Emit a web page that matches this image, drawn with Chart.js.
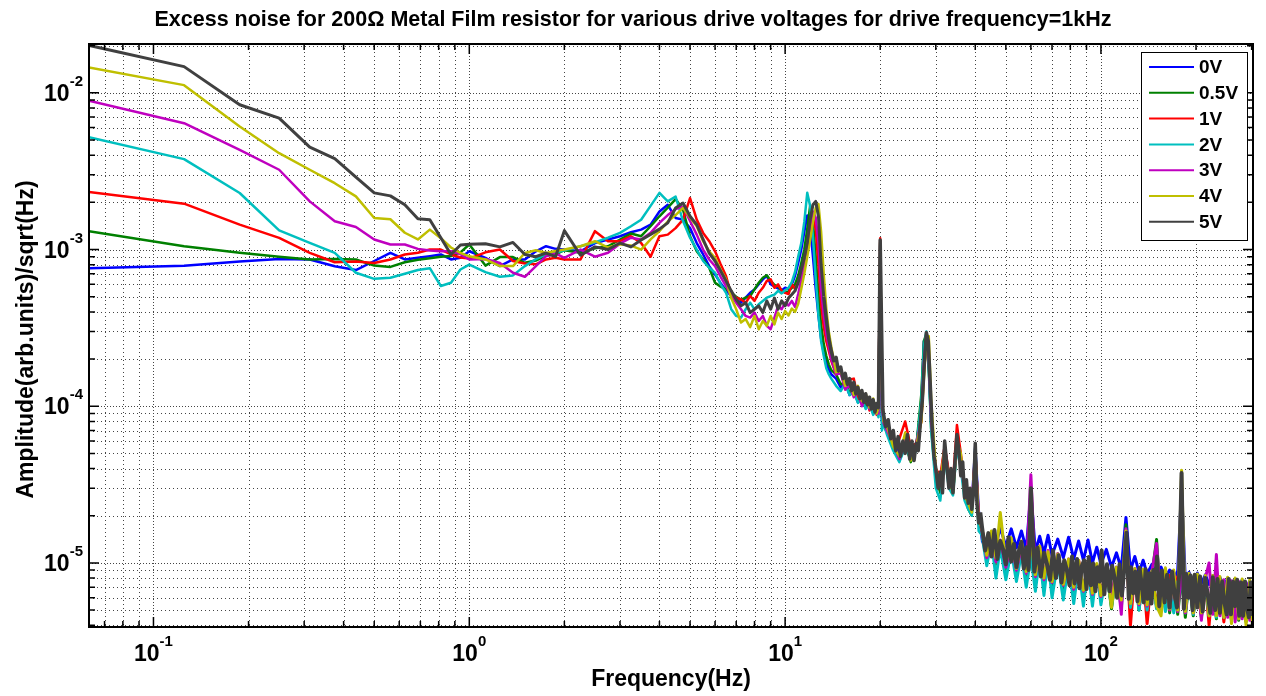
<!DOCTYPE html>
<html>
<head>
<meta charset="utf-8">
<title>Excess noise spectra</title>
<script src="https://cdn.jsdelivr.net/npm/chart.js@4.4.1/dist/chart.umd.min.js"></script>
<style>
  html, body { margin: 0; padding: 0; background: #fff; }
  canvas { display: block; }
</style>
</head>
<body>
<canvas id="noiseChart" width="1266" height="696"></canvas>
<script>
// FFT bin frequencies (Hz) up to 41 Hz, shared by the traces
const freqHz = [
  0.0625, 0.125, 0.1875, 0.25, 0.3125, 0.375, 0.4375, 0.5, 0.5625, 0.625, 0.6875, 0.75, 0.8125, 0.875, 0.9375, 1,
  1.125, 1.25, 1.375, 1.5, 1.625, 1.75, 1.875, 2, 2.25, 2.5, 2.75, 3, 3.25, 3.5, 3.75, 4,
  4.25, 4.5, 4.75, 5, 5.25, 5.5, 5.75, 6, 6.25, 6.5, 6.75, 7, 7.25, 7.5, 7.75, 8, 8.25, 8.5, 8.75, 9, 9.25, 9.5, 9.75, 10,
  10.25, 10.5, 10.75, 11, 11.25, 11.5, 11.75, 12, 12.25, 12.5, 12.75, 13, 13.25, 13.5, 13.75, 14,
  14.5, 15, 15.5, 16, 16.5, 17, 17.5, 18, 18.5, 19, 19.5, 19.75, 20, 20.25, 20.5,
  21, 22, 23, 24, 25, 26, 27, 27.5, 28, 28.5, 29, 30, 31, 32, 33, 34, 35, 36, 37, 38, 39, 40, 41
];
// bins of the noise floor above 41 Hz
const bandHz = [
  42, 43.5, 45, 46.5, 48, 50, 52, 54, 56, 58,
  60, 62, 64, 66, 68, 70, 73, 76, 79, 82,
  85, 88, 91, 94, 97, 100, 104, 108, 112, 116,
  120, 124, 128, 132, 136, 140, 145, 150, 155, 160,
  165, 170, 175, 180, 185, 190, 196, 202, 208, 214,
  220, 226, 232, 238, 245, 252, 259, 266, 273, 280,
  288, 296, 302
];
// finer bins used for the 5V trace above 13.25 Hz
const fineHz = [
  13.5, 13.75, 14, 14.25, 14.5, 14.75, 15, 15.25, 15.5, 15.75, 16, 16.25, 16.5, 16.75,
  17, 17.25, 17.5, 17.75, 18, 18.25, 18.5, 18.75, 19, 19.25, 19.5, 19.75, 20,
  20.4, 20.8, 21.2, 21.6, 22, 22.4, 22.8, 23.2, 23.6, 24, 24.4, 24.8, 25.2, 25.6,
  26, 26.4, 26.8, 27.2, 27.6, 28, 28.4, 28.8, 29.2, 29.6, 30,
  30.5, 31, 31.5, 32, 32.5, 33, 33.5, 34, 34.5, 35, 35.5, 36, 36.5, 37, 37.5, 38,
  38.5, 39, 39.5, 40, 40.5, 41, 41.5,
  42, 43, 44, 45, 46, 47, 48, 49, 50, 51, 52, 53, 54, 55, 56, 57, 58, 59, 60,
  61.5, 63, 64.5, 66, 67.5, 69, 70.5, 72, 73.5, 75, 76.5, 78, 79.5, 81, 82.5, 84, 85.5, 87, 88.5, 90,
  91.5, 93, 94.5, 96, 97.5, 99, 100.5,
  102.5, 104.5, 106.5, 108.5, 110.5, 112.5, 114.5, 116.5, 118.5, 120.5, 122.5, 124.5, 126.5,
  128.5, 130.5, 132.5, 134.5, 136.5, 138.5, 140.5, 142.5, 144.5, 146.5, 148.5, 150.5,
  153, 156, 159, 162, 165, 168, 171, 174, 177, 180, 183, 186, 189, 192, 195, 198,
  202, 206, 210, 214, 218, 222, 226, 230, 234, 238, 242, 246, 250, 254, 258, 262,
  266, 270, 274, 278, 282, 286, 290, 294, 298, 302
];

// amplitudes, in units of 1e-6 arb.units/sqrt(Hz)
const amp0V = [
  761, 788, 840, 870, 864, 783, 740, 845, 953, 864, 885, 907, 930, 864, 885, 975,
  885, 784, 864, 864, 975, 1050, 1010, 1000, 975, 1100, 1160, 1216, 1290, 1340, 1440, 1750,
  1930, 1590, 1552, 1370, 1100, 930, 784, 693, 610, 550, 505, 477, 458, 493, 530, 557, 600, 645, 680, 600, 580, 565, 550, 570,
  560, 600, 680, 820, 1000, 1300, 1650, 1400, 900, 560, 380, 270, 220, 190, 172, 160,
  150, 132, 140, 118, 124, 106, 114, 98, 106, 90, 98, 95, 1060, 80, 80,
  72, 58, 50, 62, 48, 56, 100, 260, 270, 180, 78, 40, 32, 56, 36, 32, 62, 48, 30, 26, 24, 56, 22
];
const band0V = [
  14.0, 12.0, 14.5, 13.0, 16.8, 12.8, 16.5, 12.5, 16.0, 12.2,
  28.0, 11.8, 14.8, 11.5, 15.0, 11.2, 14.2, 10.8, 14.6, 10.6,
  13.8, 10.4, 14.0, 10.0, 12.6, 9.8, 12.2, 9.4, 11.6, 9.2,
  19.5, 9.0, 11.0, 8.7, 10.4, 8.5, 9.8, 8.3, 9.4, 8.1,
  9.0, 7.9, 8.9, 30.0, 7.8, 8.7, 7.6, 8.6, 7.4, 8.4,
  7.3, 8.3, 7.2, 8.1, 7.0, 8.0, 6.9, 7.9, 6.8, 7.8,
  6.7, 7.7, 6.6
];
const amp05V = [
  1307, 1050, 953, 898, 864, 870, 864, 790, 775, 830, 860, 880, 900, 910, 960, 1076,
  790, 895, 895, 823, 850, 915, 930, 990, 953, 1020, 1050, 1158, 1265, 1216, 1408, 1630,
  1850, 2100, 1795, 1216, 975, 864, 765, 614, 580, 557, 530, 500, 477, 493, 505, 557, 614, 660, 685, 630, 595, 580, 550, 530,
  540, 570, 600, 680, 820, 1000, 1350, 1900, 1500, 900, 520, 330, 250, 210, 185, 170,
  160, 138, 142, 122, 128, 110, 116, 100, 106, 92, 98, 88, 1120, 85, 76,
  68, 56, 45, 58, 44, 54, 120, 260, 290, 170, 72, 35, 28, 50, 32, 28, 56, 45, 27, 22, 20, 55, 18
];
const band05V = [
  16.0, 10.6, 14.5, 9.8, 13.8, 9.2, 13.0, 8.8, 12.2, 8.3,
  12.0, 7.9, 11.5, 7.4, 11.0, 7.0, 10.8, 6.8, 10.2, 6.4,
  10.0, 6.1, 9.8, 5.9, 9.5, 5.7, 9.2, 5.1, 9.0, 5.3,
  17.5, 5.2, 8.8, 5.0, 8.6, 4.7, 8.4, 14.1, 4.9, 8.2,
  4.8, 8.0, 4.7, 8.2, 4.5, 7.8, 4.6, 7.7, 4.5, 7.6,
  4.5, 7.5, 4.4, 7.4, 4.4, 7.3, 4.3, 7.2, 4.3, 7.1,
  4.2, 7.0, 4.2
];
const amp1V = [
  2330, 1962, 1442, 1186, 953, 830, 840, 820, 864, 930, 953, 1000, 1000, 930, 890, 875,
  960, 1000, 845, 815, 805, 864, 885, 864, 864, 1310, 1130, 1130, 1216, 1100, 900, 1216,
  1245, 1370, 1552, 2130, 1552, 1277, 1130, 975, 805, 677, 516, 493, 480, 458, 505, 470, 530, 570, 630, 645, 570, 600, 545, 530,
  520, 600, 560, 620, 700, 850, 1050, 1350, 1600, 1350, 800, 450, 320, 260, 225, 195,
  160, 172, 128, 148, 150, 112, 104, 118, 94, 104, 88, 100, 1180, 95, 82,
  72, 60, 62, 80, 55, 58, 80, 160, 270, 230, 82, 40, 36, 56, 38, 33, 76, 50, 30, 26, 23, 52, 20
];
const band1V = [
  16.5, 11.0, 14.5, 10.0, 13.5, 9.6, 12.8, 9.0, 12.2, 8.6,
  12.0, 8.2, 11.8, 7.9, 11.2, 7.6, 11.0, 7.2, 10.4, 6.9,
  10.2, 6.6, 10.0, 6.4, 9.6, 6.2, 9.4, 6.0, 9.2, 5.8,
  13.5, 4.0, 9.0, 5.5, 8.8, 4.1, 8.6, 5.3, 8.4, 5.2,
  8.3, 5.0, 8.2, 9.0, 4.9, 8.0, 4.8, 7.9, 4.7, 7.8,
  4.0, 7.7, 4.6, 7.6, 4.2, 7.5, 4.5, 7.4, 4.4, 7.3,
  4.3, 7.2, 4.2
];
const amp2V = [
  5210, 3775, 2295, 1326, 1103, 953, 711, 650, 660, 700, 740, 760, 585, 614, 746, 802,
  718, 670, 684, 784, 870, 930, 953, 990, 1050, 1110, 1190, 1277, 1408, 1550, 1900, 2300,
  2030, 2180, 1520, 1190, 1000, 845, 765, 711, 600, 530, 416, 377, 368, 416, 458, 416, 447, 470, 493, 505, 516, 545, 525, 550,
  570, 620, 720, 900, 1100, 1500, 2300, 1900, 1200, 650, 380, 260, 210, 175, 160, 150,
  135, 125, 140, 118, 124, 105, 112, 96, 104, 88, 96, 85, 1080, 70, 78,
  66, 52, 44, 55, 46, 52, 110, 240, 300, 180, 70, 30, 25, 48, 30, 27, 55, 40, 25, 22, 20, 45, 16
];
const band2V = [
  15.0, 9.6, 14.0, 8.0, 12.5, 7.8, 12.0, 7.6, 11.5, 7.0,
  11.0, 6.6, 11.0, 6.2, 10.5, 6.0, 10.2, 5.8, 9.8, 5.5,
  9.6, 5.3, 9.4, 5.3, 9.2, 5.4, 8.8, 5.3, 8.6, 5.1,
  14.0, 5.2, 8.4, 5.0, 8.2, 5.0, 8.0, 5.1, 7.8, 4.9,
  7.7, 4.8, 7.6, 8.0, 4.8, 7.5, 4.7, 7.4, 4.6, 7.3,
  4.6, 7.2, 4.5, 7.1, 4.5, 7.0, 4.4, 6.9, 4.4, 6.9,
  4.3, 6.8, 4.3
];
const amp3V = [
  8900, 6400, 4330, 3230, 2030, 1515, 1394, 1158, 1076, 1076, 1010, 985, 975, 975, 935, 864,
  870, 820, 711, 670, 784, 907, 945, 885, 1000, 900, 953, 1090, 1190, 1160, 1277, 1480,
  1660, 1810, 1880, 1520, 1245, 1000, 864, 784, 670, 585, 505, 458, 416, 377, 368, 396, 350, 377, 326, 310, 368, 437, 416, 458,
  440, 470, 430, 520, 640, 780, 1000, 1350, 1750, 1600, 1100, 560, 380, 290, 240, 200,
  160, 162, 128, 136, 114, 125, 100, 112, 96, 102, 90, 90, 1100, 100, 78,
  70, 58, 46, 60, 48, 56, 85, 190, 285, 200, 80, 38, 33, 52, 35, 30, 58, 44, 28, 25, 22, 50, 20
];
const band3V = [
  16.0, 10.8, 14.8, 10.2, 14.0, 9.4, 13.2, 9.0, 12.5, 8.6,
  36.5, 8.2, 12.8, 7.8, 12.0, 7.5, 11.5, 7.2, 10.6, 6.8,
  10.4, 6.6, 10.2, 6.3, 9.8, 6.1, 9.6, 5.9, 9.4, 4.7,
  16.5, 5.6, 9.2, 5.4, 9.0, 5.3, 8.8, 13.3, 5.1, 8.6,
  5.0, 8.5, 4.9, 9.0, 4.8, 8.3, 4.8, 8.2, 4.3, 8.0,
  10.0, 4.7, 11.3, 4.6, 7.8, 4.5, 7.7, 4.2, 7.6, 4.4,
  7.5, 4.3, 7.4
];
const amp4V = [
  14500, 11200, 6100, 4120, 3230, 2650, 2185, 1590, 1560, 1280, 1160, 1340, 1180, 1030, 953, 905,
  864, 784, 784, 950, 990, 950, 980, 1000, 1050, 1130, 1030, 1080, 1060, 1000, 1160, 1310,
  1510, 1660, 1845, 1600, 1410, 1130, 975, 885, 746, 645, 490, 416, 342, 360, 320, 377, 310, 350, 326, 377, 333, 396, 360, 406,
  380, 420, 400, 450, 560, 700, 900, 1150, 1500, 1850, 1950, 1300, 700, 420, 300, 240,
  165, 168, 135, 145, 118, 135, 108, 120, 98, 112, 90, 98, 1100, 130, 80,
  75, 55, 48, 68, 45, 55, 80, 150, 270, 280, 110, 40, 32, 55, 34, 28, 60, 50, 27, 24, 21, 52, 19
];
const band4V = [
  16.5, 11.2, 16.0, 10.8, 21.0, 10.0, 14.5, 9.2, 13.8, 8.8,
  13.5, 8.4, 12.8, 8.0, 11.8, 7.6, 11.4, 7.3, 10.6, 7.0,
  10.4, 6.7, 10.2, 6.4, 9.9, 6.2, 9.6, 5.2, 9.4, 5.8,
  16.0, 5.5, 9.2, 5.5, 9.1, 5.4, 8.9, 5.3, 4.6, 9.3,
  5.1, 9.0, 5.0, 39.0, 4.9, 8.6, 4.8, 8.5, 4.8, 8.3,
  4.6, 8.3, 4.6, 8.2, 4.5, 8.1, 4.1, 8.0, 4.4, 7.9,
  4.0, 7.8, 4.0
];
// 5V up to 13.25 Hz on freqHz, then on fineHz
const amp5V = [
  20100, 14700, 8400, 6900, 4500, 3800, 2900, 2300, 2200, 1930, 1570, 1550, 1190, 930, 1070, 1080,
  1090, 1040, 1110, 930, 900, 950, 900, 1320, 920, 1040, 1000, 1100, 1040, 1150, 1250, 1350,
  1480, 1840, 1980, 1630, 1440, 1160, 950, 845, 730, 630, 545, 480, 437, 458, 396, 416, 437, 396, 470, 416, 490, 416, 470, 437,
  490, 516, 545, 614, 746, 885, 1100, 1550, 1930, 2030, 1630, 800, 500
];
const fine5V = [
  360, 270, 225, 195, 205, 168, 178, 150, 162, 138, 150, 126, 142, 120,
  132, 112, 126, 106, 120, 102, 114, 96, 110, 92, 104, 98, 1150,
  95, 74, 82, 62, 70, 52, 64, 48, 60, 50, 66, 46, 60, 45,
  58, 52, 78, 110, 190, 295, 260, 140, 75, 48, 40,
  30, 38, 28, 60, 42, 30, 40, 28, 44, 66, 52, 36, 44, 26, 34, 24,
  30, 22, 28, 58, 24, 18, 21,
  17.0, 12.0, 15.5, 11.0, 16.2, 10.6, 13.8, 12.2, 9.8, 14.6, 10.2, 13.2, 9.4, 12.0, 13.6, 9.2, 12.6, 9.0, 30.0,
  8.8, 12.5, 8.2, 11.6, 9.8, 7.8, 12.0, 8.0, 11.2, 7.5, 10.4, 9.0, 7.2, 11.0, 7.4, 10.6, 6.9, 9.6, 10.4, 6.8,
  10.9, 7.2, 9.9, 6.6, 9.4, 7.6, 12.0,
  6.3, 9.8, 6.6, 9.6, 8.0, 6.0, 9.8, 6.2, 9.2, 15.6, 5.9, 9.4, 6.4,
  8.8, 5.7, 9.3, 7.4, 5.6, 9.1, 5.9, 8.6, 5.5, 9.0, 6.8, 11.0,
  5.3, 8.9, 5.6, 8.4, 5.2, 8.8, 6.4, 5.2, 8.6, 37.5, 5.1, 8.5, 6.0, 8.3, 5.0, 8.4,
  5.2, 8.2, 4.9, 8.0, 6.2, 4.8, 8.1, 5.0, 7.9, 4.8, 7.6, 5.6, 4.7, 7.9, 4.7, 7.6,
  5.3, 7.8, 4.6, 7.5, 4.6, 7.6, 5.2, 4.5, 7.5, 4.6
];

const driveLabels = ['0V', '0.5V', '1V', '2V', '3V', '4V', '5V'];
const lowSeries = [amp0V, amp05V, amp1V, amp2V, amp3V, amp4V, amp5V];
const highSeries = [band0V, band05V, band1V, band2V, band3V, band4V, fine5V];
const highGrids = [bandHz, bandHz, bandHz, bandHz, bandHz, bandHz, fineHz];
const traceColors = ['#0000ff', '#008000', '#ff0000', '#00bfbf', '#bf00bf', '#bfbf00', '#404040'];
// stroke widths: below 13 Hz, 13-41 Hz, above 41 Hz (dense noise floor)
const traceWidths = [
  [2.5, 2.5, 3], [2.5, 2.5, 3], [2.5, 2.5, 3], [2.5, 2.5, 3],
  [2.5, 2.5, 3], [2.5, 2.5, 3], [3, 3.5, 4]
];

// labelled decades on each axis
const xTickValues = [0.1, 1, 10, 100];
const yTickValues = [1e-5, 1e-4, 1e-3, 1e-2];

const titleText = 'Excess noise for 200\u03a9 Metal Film resistor for various drive voltages for drive frequency=1kHz';
const xTitle = 'Frequency(Hz)';
const yTitle = 'Amplitude(arb.units)/sqrt(Hz)';

const FONT = '"Liberation Sans", Arial, Helvetica, sans-serif';

// 1..9 x 10^n steps strictly inside (lo, hi)
function logSteps(lo, hi) {
  const out = [];
  for (let e = Math.floor(Math.log10(lo)); e <= Math.ceil(Math.log10(hi)); e++) {
    for (let m = 1; m <= 9; m++) {
      const v = m * Math.pow(10, e);
      if (v > lo * 1.0001 && v < hi * 0.9999) out.push({ v, major: m === 1 });
    }
  }
  return out;
}

// "10" with a raised exponent; anchor = 'center' or 'right'
function drawPower(ctx, exp, x, y, anchor) {
  const base = '10', sup = String(exp);
  ctx.font = 'bold 23px ' + FONT;
  const wb = ctx.measureText(base).width;
  ctx.font = 'bold 15px ' + FONT;
  const ws = ctx.measureText(sup).width;
  const left = anchor === 'right' ? x - wb - ws : x - (wb + ws) / 2;
  ctx.textAlign = 'left';
  ctx.textBaseline = 'alphabetic';
  ctx.font = 'bold 23px ' + FONT;
  ctx.fillText(base, left, y);
  ctx.font = 'bold 15px ' + FONT;
  ctx.fillText(sup, left + wb, y - 15);
}

const axesFrame = {
  id: 'axesFrame',
  beforeDraw(chart) {
    const { ctx, width, height } = chart;
    ctx.save();
    ctx.fillStyle = '#fff';
    ctx.fillRect(0, 0, width, height);
    ctx.restore();
  },
  beforeDatasetsDraw(chart) {
    const { ctx, chartArea: a, scales: { x, y } } = chart;
    ctx.save();
    ctx.strokeStyle = '#444';
    ctx.lineWidth = 1;
    for (const t of logSteps(x.min, x.max)) {
      const px = Math.round(x.getPixelForValue(t.v)) + 0.5;
      ctx.setLineDash(t.major ? [1, 2] : [1, 3]);
      ctx.beginPath();
      ctx.moveTo(px, a.top);
      ctx.lineTo(px, a.bottom);
      ctx.stroke();
    }
    for (const t of logSteps(y.min, y.max)) {
      const py = Math.round(y.getPixelForValue(t.v)) + 0.5;
      ctx.setLineDash(t.major ? [1, 2] : [1, 3]);
      ctx.beginPath();
      ctx.moveTo(a.left, py);
      ctx.lineTo(a.right, py);
      ctx.stroke();
    }
    ctx.restore();
  },
  afterDatasetsDraw(chart) {
    const { ctx, chartArea: a, scales: { x, y } } = chart;
    ctx.save();
    ctx.setLineDash([]);
    ctx.strokeStyle = '#000';
    ctx.fillStyle = '#000';

    // inward ticks on all four sides
    ctx.lineWidth = 1.5;
    for (const t of logSteps(x.min, x.max)) {
      const px = x.getPixelForValue(t.v);
      const len = t.major ? 10 : 6;
      ctx.beginPath();
      ctx.moveTo(px, a.bottom); ctx.lineTo(px, a.bottom - len);
      ctx.moveTo(px, a.top); ctx.lineTo(px, a.top + len);
      ctx.stroke();
    }
    for (const t of logSteps(y.min, y.max)) {
      const py = y.getPixelForValue(t.v);
      const len = t.major ? 10 : 6;
      ctx.beginPath();
      ctx.moveTo(a.left, py); ctx.lineTo(a.left + len, py);
      ctx.moveTo(a.right, py); ctx.lineTo(a.right - len, py);
      ctx.stroke();
    }

    // axes box
    ctx.lineWidth = 2;
    ctx.strokeRect(a.left, a.top, a.right - a.left, a.bottom - a.top);

    // decade labels
    for (const v of xTickValues) {
      drawPower(ctx, Math.round(Math.log10(v)), x.getPixelForValue(v), 661, 'center');
    }
    for (const v of yTickValues) {
      drawPower(ctx, Math.round(Math.log10(v)), 83, y.getPixelForValue(v) + 8, 'right');
    }

    // titles
    ctx.textAlign = 'center';
    ctx.textBaseline = 'alphabetic';
    ctx.font = 'bold 21.5px ' + FONT;
    ctx.fillText(titleText, chart.width / 2, 26);
    ctx.font = 'bold 23px ' + FONT;
    ctx.fillText(xTitle, (a.left + a.right) / 2, 686);
    ctx.save();
    ctx.translate(33, (a.top + a.bottom) / 2 + 4);
    ctx.rotate(-Math.PI / 2);
    ctx.fillText(yTitle, 0, 0);
    ctx.restore();

    // legend box in the upper right corner of the axes
    const bx = 1141, by = 52, bw = 106, bh = 188, row = 25.8;
    ctx.fillStyle = '#fff';
    ctx.fillRect(bx, by, bw, bh);
    ctx.lineWidth = 1;
    ctx.strokeStyle = '#000';
    ctx.strokeRect(bx + 0.5, by + 0.5, bw, bh);
    ctx.font = 'bold 19px ' + FONT;
    ctx.textAlign = 'left';
    ctx.textBaseline = 'middle';
    chart.data.datasets.forEach((ds, i) => {
      const ly = by + 15 + i * row;
      ctx.strokeStyle = ds.borderColor;
      ctx.lineWidth = 2;
      ctx.beginPath();
      ctx.moveTo(bx + 8, ly);
      ctx.lineTo(bx + 53, ly);
      ctx.stroke();
      ctx.fillStyle = '#000';
      ctx.fillText(ds.label, bx + 58, ly + 1);
    });
    ctx.restore();
  }
};

const datasets = lowSeries.map((amps, i) => {
  const points = amps.map((v, k) => ({ x: freqHz[k], y: v * 1e-6 }));
  highGrids[i].forEach((f, k) => points.push({ x: f, y: highSeries[i][k] * 1e-6 }));
  const [wLow, wMid, wHigh] = traceWidths[i];
  return {
    label: driveLabels[i],
    data: points,
    borderColor: traceColors[i],
    backgroundColor: traceColors[i],
    borderWidth: wLow,
    borderJoinStyle: 'round',
    pointRadius: 0,
    tension: 0,
    clip: 0,
    order: lowSeries.length - 1 - i,
    segment: {
      borderWidth: c => {
        const f = c.p0.parsed.x;
        return f >= 41.5 ? wHigh : f >= 13.25 ? wMid : wLow;
      }
    }
  };
});

new Chart(document.getElementById('noiseChart'), {
  type: 'line',
  data: { datasets },
  options: {
    responsive: false,
    animation: false,
    devicePixelRatio: 1,
    layout: { padding: { top: 44, right: 13, bottom: 0, left: 0 } },
    plugins: {
      legend: { display: false },
      title: { display: false },
      tooltip: { enabled: false }
    },
    scales: {
      x: {
        type: 'logarithmic',
        min: 0.0625,
        max: 303,
        ticks: { display: false },
        grid: { display: false },
        border: { display: false },
        afterFit(scale) { scale.height = 69; }
      },
      y: {
        type: 'logarithmic',
        min: 3.9e-6,
        max: 0.0205,
        ticks: { display: false },
        grid: { display: false },
        border: { display: false },
        afterFit(scale) { scale.width = 89; }
      }
    }
  },
  plugins: [axesFrame]
});
</script>
</body>
</html>
